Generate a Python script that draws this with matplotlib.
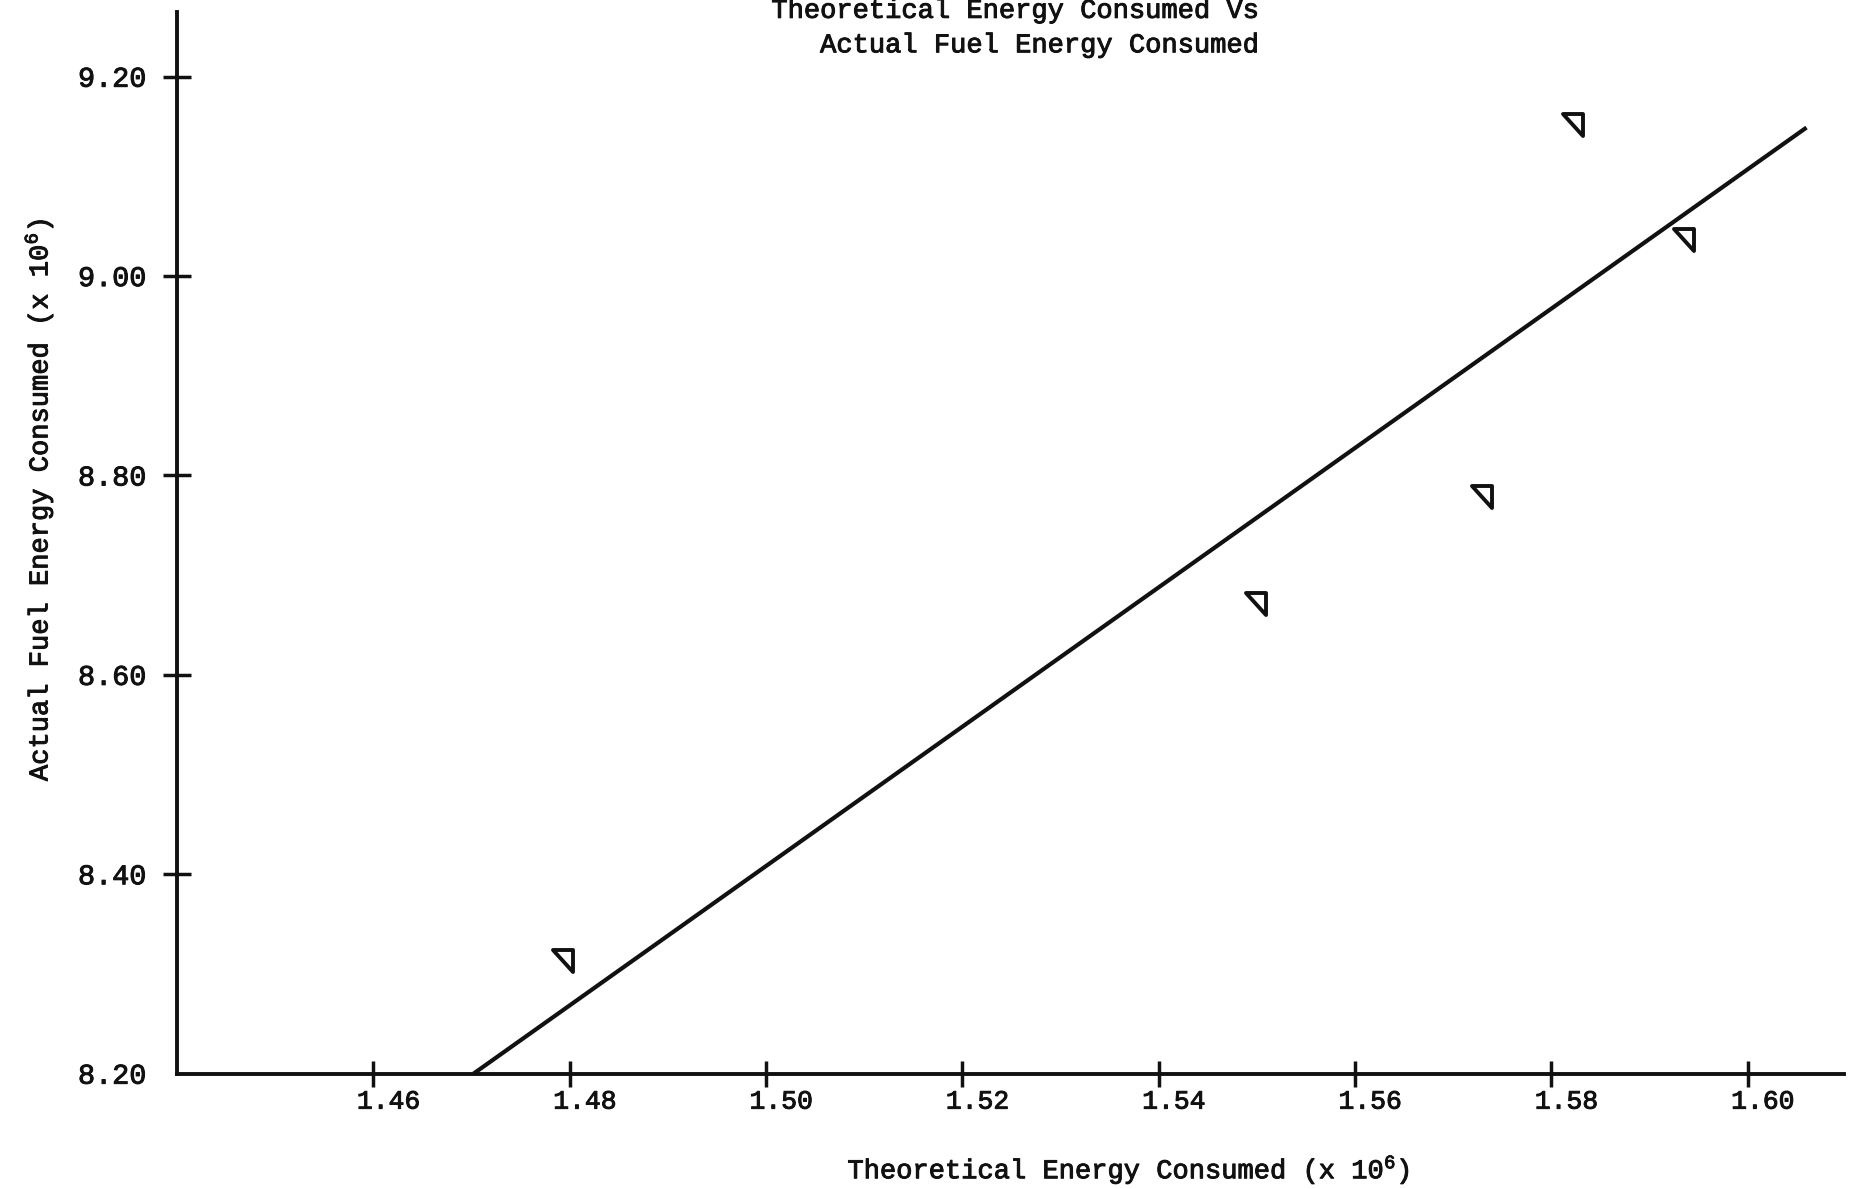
"""Theoretical vs actual fuel energy consumed, typewriter-style scatter with fitted line."""

import matplotlib

matplotlib.use("Agg")

import matplotlib.pyplot as plt
import matplotlib.patheffects as pe
import matplotlib.transforms as mtransforms
from matplotlib.path import Path

# observed points (x 10^6)
theoretical = [1.4793, 1.5499, 1.5729, 1.5822, 1.5935]
actual = [8.314, 8.672, 8.779, 9.153, 9.037]

# fitted line end points
line_x = [1.4702, 1.6060]
line_y = [8.200, 9.149]

x_ticks = [1.46, 1.48, 1.50, 1.52, 1.54, 1.56, 1.58, 1.60]
y_ticks = [8.20, 8.40, 8.60, 8.80, 9.00, 9.20]

title_lines = ["Theoretical Energy Consumed Vs", "Actual Fuel Energy Consumed"]
x_label = r"Theoretical Energy Consumed (x 10$^{6}$)"
y_label = r"Actual Fuel Energy Consumed (x 10$^{6}$)"

FONT = "Liberation Mono"
INK = "#111111"

plt.rcParams["font.family"] = [FONT, "DejaVu Sans Mono"]
plt.rcParams["mathtext.default"] = "regular"

# typewriter ink is heavier than the regular face
heavy = [pe.withStroke(linewidth=0.7, foreground=INK)]

# right triangle: flat top, vertical right side
tri = Path(
    [(-1, 1), (1, 1), (1, -1.15), (-1, 1)],
    [Path.MOVETO, Path.LINETO, Path.LINETO, Path.CLOSEPOLY],
)

fig = plt.figure(figsize=(18.54, 11.89), dpi=100)
ax = fig.add_axes([0.0955, 0.097, 0.899, 0.893])

ax.plot(line_x, line_y, color=INK, linewidth=3.0, solid_capstyle="butt")
ax.plot(
    theoretical,
    actual,
    linestyle="none",
    marker=tri,
    markersize=17,
    markerfacecolor="none",
    markeredgecolor=INK,
    markeredgewidth=2.8,
)

ax.set_xlim(1.44, 1.6098)
ax.set_ylim(8.20, 9.265)

for side in ("top", "right"):
    ax.spines[side].set_visible(False)
for side in ("left", "bottom"):
    ax.spines[side].set_linewidth(2.8)
    ax.spines[side].set_color(INK)

ax.set_xticks(x_ticks)
ax.set_xticklabels([f"{v:.2f}" for v in x_ticks], fontsize=19, color=INK)
ax.set_yticks(y_ticks)
ax.set_yticklabels([f"{v:.2f}" for v in y_ticks], fontsize=20.5, color=INK)
ax.tick_params(axis="x", direction="inout", length=19, width=2.5, pad=2, colors=INK)
ax.tick_params(axis="y", direction="inout", length=20, width=2.5, pad=12, colors=INK)
ax.yaxis.get_major_ticks()[0].tick1line.set_visible(False)

# typed labels sit a little right of their tick marks
shift = mtransforms.ScaledTranslation(11 / 72, 0, fig.dpi_scale_trans)
for lab in ax.get_xticklabels():
    lab.set_transform(lab.get_transform() + shift)
for lab in ax.get_xticklabels() + ax.get_yticklabels():
    lab.set_path_effects(heavy)

fig.text(0.679, 0.985, title_lines[0], ha="right", va="baseline",
         fontsize=19.5, color=INK, path_effects=heavy)
fig.text(0.679, 0.956, title_lines[1], ha="right", va="baseline",
         fontsize=19.5, color=INK, path_effects=heavy)
fig.text(0.609, 0.009, x_label, ha="center", va="baseline",
         fontsize=19.5, color=INK, path_effects=heavy)
fig.text(0.021, 0.580, y_label, ha="center", va="center", rotation=90,
         fontsize=19.5, color=INK, path_effects=heavy)

fig.savefig("out.png", dpi=100, facecolor="white")
plt.close(fig)
